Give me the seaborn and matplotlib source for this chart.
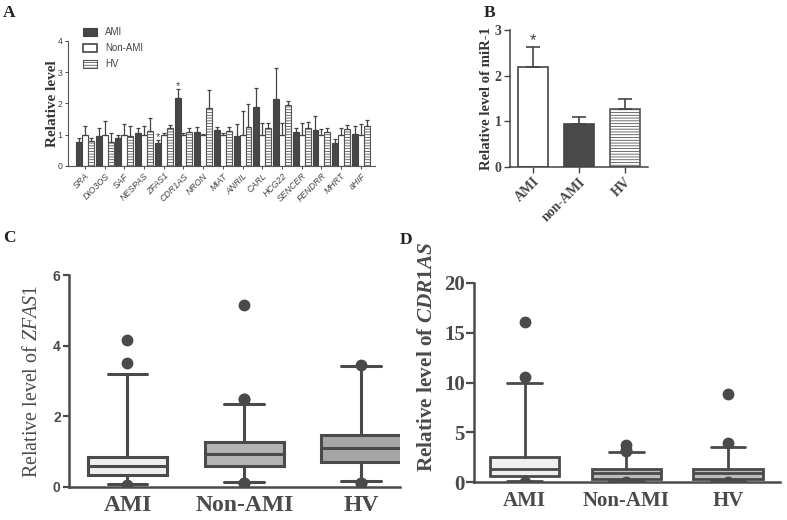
import numpy as np
import pandas as pd
import matplotlib
matplotlib.use("Agg")
import matplotlib.pyplot as plt
import seaborn as sns
from matplotlib.patches import Patch

# ---------------- data ----------------
genes = ["SRA", "DIO3OS", "SAF", "NESPAS", "ZFAS1", "CDR1AS", "NRON", "MIAT",
         "ANRIL", "CARL", "HCG22", "SENCER", "FENDRR", "MHRT", "aHIF"]
groups_a = ["AMI", "Non-AMI", "HV"]
ami_mean = [0.78, 0.97, 0.89, 1.05, 0.75, 2.18, 1.09, 1.16, 0.97, 1.89, 2.13, 1.10, 1.15, 0.75, 1.03]
ami_top = [0.89, 1.21, 1.00, 1.21, 0.82, 2.45, 1.25, 1.25, 1.35, 2.50, 3.12, 1.23, 1.60, 0.85, 1.28]
non_mean = [1.00, 1.00, 1.00, 1.00, 1.00, 1.00, 1.00, 1.00, 1.00, 1.00, 1.00, 1.00, 1.00, 1.00, 1.00]
non_top = [1.27, 1.43, 1.35, 1.27, 1.05, 1.04, 1.02, 1.06, 1.77, 1.38, 1.38, 1.36, 1.17, 1.23, 1.33]
hv_mean = [0.80, 0.78, 0.95, 1.13, 1.21, 1.10, 1.84, 1.12, 1.25, 1.20, 1.96, 1.20, 1.08, 1.17, 1.29]
hv_top = [0.89, 1.05, 1.27, 1.54, 1.30, 1.20, 2.42, 1.24, 1.97, 1.38, 2.09, 1.40, 1.22, 1.30, 1.47]
star_genes_a = ["ZFAS1", "CDR1AS"]

groups_b = ["AMI", "non-AMI", "HV"]
b_mean = [2.19, 0.95, 1.27]
b_top = [2.63, 1.09, 1.49]

groups_box = ["AMI", "Non-AMI", "HV"]
# panel C (ZFAS1)
c_whislo = [0.09, 0.14, 0.15]
c_q1 = [0.33, 0.60, 0.71]
c_med = [0.60, 0.93, 1.09]
c_q3 = [0.85, 1.26, 1.47]
c_whishi = [3.20, 2.34, 3.43]
c_fliers = [[4.17, 3.50, 0.06], [5.15, 2.50, 2.50, 0.10, 0.10], [3.45, 0.10, 0.10]]
# panel D (CDR1AS)
d_whislo = [0.12, 0.10, 0.10]
d_q1 = [0.63, 0.37, 0.37]
d_med = [1.33, 0.97, 0.97]
d_q3 = [2.57, 1.33, 1.30]
d_whishi = [10.0, 3.07, 3.53]
d_fliers = [[16.1, 10.6, 0.08], [3.20, 3.10, 3.70, 0.05], [8.90, 3.90, 0.05]]

# ---------------- style ----------------
sns.set_style("ticks")
plt.rcParams["font.family"] = ["Liberation Sans", "DejaVu Sans"]
plt.rcParams["mathtext.fontset"] = "custom"
plt.rcParams["mathtext.rm"] = "Liberation Serif"
plt.rcParams["mathtext.it"] = "Liberation Serif:italic"
plt.rcParams["mathtext.bf"] = "Liberation Serif:bold"
plt.rcParams["mathtext.bfit"] = "Liberation Serif:bold:italic"
plt.rcParams["hatch.linewidth"] = 0.6
SERIF = ["Liberation Serif", "DejaVu Serif"]
DARK = "#474747"

fig = plt.figure(figsize=(7.87, 5.2), dpi=100)

# ================= Panel A =================
axA = fig.add_axes([0.0864, 0.6808, 0.3901, 0.2404])
df_a = pd.DataFrame({
    "gene": genes * 3,
    "group": [g for g in groups_a for _ in genes],
    "value": ami_mean + non_mean + hv_mean,
})
sns.barplot(data=df_a, x="gene", y="value", hue="group", hue_order=groups_a,
            order=genes, palette=[DARK, "white", "white"], width=0.9,
            errorbar=None, edgecolor="#444444", linewidth=0.8, legend=False, ax=axA)
tops = [ami_top, non_top, hv_top]
means = [ami_mean, non_mean, hv_mean]
bar_conts = list(axA.containers)[:3]
for i, cont in enumerate(bar_conts):
    xs = [b.get_x() + b.get_width() / 2 for b in cont]
    if i == 2:
        for b in cont:
            b.set_hatch("------")
            b.set_edgecolor("#555555")
    err = np.array(tops[i]) - np.array(means[i])
    axA.errorbar(xs, means[i], yerr=[np.zeros(len(xs)), err], fmt="none",
                 ecolor="#444444", elinewidth=0.9, capsize=1.6, capthick=0.9, zorder=3)
    if i == 0:
        for g in star_genes_a:
            k = genes.index(g)
            axA.text(xs[k], ami_top[k] + 0.12, "*", ha="center", va="center",
                     fontsize=8, color="#444444")
axA.set_xlim(-0.86, 14.72)
axA.set_ylim(0, 4)
axA.set_yticks([0, 1, 2, 3, 4])
axA.set_xlabel("")
axA.set_ylabel("Relative level", family=SERIF, fontweight="bold", fontsize=11,
               color="#333333", labelpad=-1)
axA.tick_params(axis="both", labelsize=6.3, length=2.5, width=0.7, colors="#444444", pad=1.5)
for lab in axA.get_xticklabels():
    lab.set_rotation(45)
    lab.set_ha("right")
    lab.set_rotation_mode("anchor")
    lab.set_style("italic")
sns.despine(ax=axA)
for s in ["left", "bottom"]:
    axA.spines[s].set_linewidth(0.8)
    axA.spines[s].set_color("#555555")
handles = [Patch(facecolor=DARK, edgecolor="#444444", linewidth=0.8),
           Patch(facecolor="white", edgecolor="#444444", linewidth=1.2),
           Patch(facecolor="white", edgecolor="#555555", linewidth=0.8, hatch="------")]
axA.legend(handles, groups_a, loc="upper left", bbox_to_anchor=(83 / 787, 1 - 27 / 520),
           bbox_transform=fig.transFigure, frameon=False, fontsize=7, borderpad=0,
           borderaxespad=0, handlelength=1.45, handleheight=0.85, handletextpad=0.8,
           labelspacing=0.62, labelcolor="#444444")

# ================= Panel B =================
axB = fig.add_axes([0.648, 0.679, 0.175, 0.263])
df_b = pd.DataFrame({"group": groups_b, "value": b_mean})
sns.barplot(data=df_b, x="group", y="value", order=groups_b, hue="group",
            palette=["white", "#4a4a4a", "white"], width=0.65, errorbar=None,
            edgecolor="#444444", linewidth=1.2, legend=False, ax=axB)
bars_b = [p for p in axB.patches]
xs_b = [b.get_x() + b.get_width() / 2 for b in bars_b]
bars_b[2].set_hatch("------")
bars_b[2].set_edgecolor("#555555")
axB.errorbar(xs_b, b_mean, yerr=[np.zeros(3), np.array(b_top) - np.array(b_mean)],
             fmt="none", ecolor="#444444", elinewidth=1.2, capsize=5, capthick=1.2, zorder=3)
axB.text(xs_b[0], b_top[0] + 0.14, "*", ha="center", va="center", fontsize=12, color="#444444")
axB.set_xlim(-0.5, 2.5)
axB.set_ylim(0, 3)
axB.set_yticks([0, 1, 2, 3])
axB.set_xlabel("")
axB.set_ylabel("Relative level of miR-1", family=SERIF, fontweight="bold", fontsize=10.6,
               color="#333333", labelpad=1)
axB.tick_params(axis="both", length=4, width=1, colors="#444444", labelsize=10, pad=2)
for lab in axB.get_yticklabels() + axB.get_xticklabels():
    lab.set_family(SERIF)
    lab.set_fontweight("bold")
for lab in axB.get_xticklabels():
    lab.set_rotation(45)
    lab.set_ha("right")
    lab.set_rotation_mode("anchor")
sns.despine(ax=axB)
for s in ["left", "bottom"]:
    axB.spines[s].set_linewidth(1.1)
    axB.spines[s].set_color("#444444")


def box_panel(ax, whislo, q1, med, q3, whishi, fliers, fills, lw):
    stats = [dict(label=g, whislo=whislo[i], q1=q1[i], med=med[i], q3=q3[i],
                  whishi=whishi[i], fliers=fliers[i]) for i, g in enumerate(groups_box)]
    res = ax.bxp(stats, positions=[0, 1, 2], widths=0.68, patch_artist=True,
                 capwidths=0.34,
                 boxprops=dict(edgecolor="#4a4a4a", linewidth=lw),
                 whiskerprops=dict(color="#4a4a4a", linewidth=lw),
                 capprops=dict(color="#4a4a4a", linewidth=lw),
                 medianprops=dict(color="#4a4a4a", linewidth=lw),
                 flierprops=dict(marker="o", markerfacecolor="#4a4a4a",
                                 markeredgecolor="#4a4a4a", markersize=7.5))
    for b, c in zip(res["boxes"], fills):
        b.set_facecolor(c)
    sns.despine(ax=ax)
    for s in ["left", "bottom"]:
        ax.spines[s].set_linewidth(1.8)
        ax.spines[s].set_color("#4a4a4a")


# ================= Panel C =================
axC = fig.add_axes([0.0877, 0.064, 0.4203, 0.407])
box_panel(axC, c_whislo, c_q1, c_med, c_q3, c_whishi, c_fliers,
          ["#efefef", "#b4b4b4", "#a6a6a6"], 2.2)
axC.set_xlim(-0.5, 2.33)
axC.set_ylim(0, 6)
axC.set_yticks([0, 2, 4, 6])
axC.tick_params(axis="y", length=4.5, width=1.6, colors="#4a4a4a", labelsize=10, pad=1.5)
axC.tick_params(axis="x", length=0, colors="#4a4a4a", labelsize=17, pad=6)
for lab in axC.get_yticklabels():
    lab.set_fontweight("bold")
for lab in axC.get_xticklabels():
    lab.set_family(SERIF)
    lab.set_fontweight("bold")
axC.set_ylabel("Relative level of $\\mathit{ZFAS1}$", family=SERIF, fontsize=14.4,
               color="#4a4a4a", labelpad=8)

# ================= Panel D =================
axD = fig.add_axes([0.602, 0.0725, 0.389, 0.3835])
box_panel(axD, d_whislo, d_q1, d_med, d_q3, d_whishi, d_fliers,
          ["#efefef", "#bdbdbd", "#bdbdbd"], 2.0)
axD.set_xlim(-0.5, 2.51)
axD.set_ylim(0, 20)
axD.set_yticks([0, 5, 10, 15, 20])
axD.tick_params(axis="y", length=5.5, width=1.6, colors="#4a4a4a", labelsize=15, pad=1)
axD.tick_params(axis="x", length=0, colors="#4a4a4a", labelsize=15, pad=6)
for lab in axD.get_yticklabels() + axD.get_xticklabels():
    lab.set_family(SERIF)
    lab.set_fontweight("bold")
axD.set_ylabel("Relative level of $\\boldsymbol{CDR1AS}$", family=SERIF, fontsize=15.3,
               fontweight="bold", color="#4a4a4a")
axD.yaxis.set_label_coords(-0.12, 0.63)

# ---------------- panel letters ----------------
for letter, x, y in [("A", 3, 13), ("B", 484, 13), ("C", 3, 238), ("D", 400, 240)]:
    fig.text(x / 787, 1 - y / 520, letter, family=SERIF, fontweight="bold", fontsize=12.5,
             color="#222222", ha="left", va="center")

fig.savefig("out.png", dpi=100)
